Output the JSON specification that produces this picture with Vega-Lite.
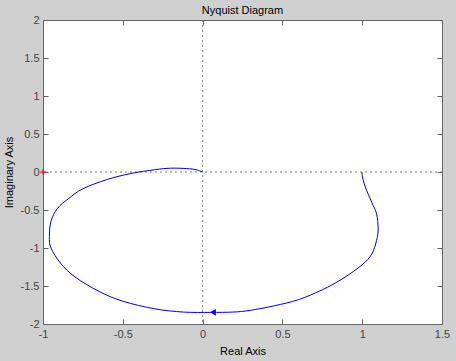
{
  "$schema": "https://vega.github.io/schema/vega-lite/v6.json",
  "width": 399,
  "height": 304,
  "autosize": "none",
  "padding": {"left": 43, "top": 20, "right": 14, "bottom": 37},
  "background": "#d0d0d0",
  "title": {"text": "Nyquist Diagram", "fontSize": 11, "fontWeight": "normal", "font": "Liberation Sans", "color": "#000000", "offset": 5, "dy": 7},
  "config": {
    "view": {"fill": "white", "stroke": "#666666", "strokeWidth": 1},
    "axis": {
      "grid": false,
      "domain": false,
      "labelFont": "Liberation Sans",
      "titleFont": "Liberation Sans",
      "labelFontSize": 11,
      "titleFontSize": 11,
      "titleFontWeight": "normal",
      "labelColor": "#444444",
      "titleColor": "#000000",
      "tickColor": "#666666",
      "tickSize": -5,
      "labelFlush": false
    }
  },
  "datasets": {
    "curve": [
      {"i": 1, "re": 1.0, "im": 0.0},
      {"i": 2, "re": 1.0, "im": -0.05},
      {"i": 3, "re": 1.02, "im": -0.2},
      {"i": 4, "re": 1.06, "im": -0.4},
      {"i": 5, "re": 1.09, "im": -0.55},
      {"i": 6, "re": 1.1, "im": -0.75},
      {"i": 7, "re": 1.09, "im": -0.9},
      {"i": 8, "re": 1.06, "im": -1.08},
      {"i": 9, "re": 1.0, "im": -1.22},
      {"i": 10, "re": 0.88, "im": -1.4},
      {"i": 11, "re": 0.75, "im": -1.55},
      {"i": 12, "re": 0.6, "im": -1.68},
      {"i": 13, "re": 0.45, "im": -1.76},
      {"i": 14, "re": 0.3, "im": -1.82},
      {"i": 15, "re": 0.19, "im": -1.843},
      {"i": 16, "re": 0.05, "im": -1.847},
      {"i": 17, "re": -0.12, "im": -1.843},
      {"i": 18, "re": -0.3, "im": -1.8},
      {"i": 19, "re": -0.5, "im": -1.7},
      {"i": 20, "re": -0.65, "im": -1.57},
      {"i": 21, "re": -0.8, "im": -1.38},
      {"i": 22, "re": -0.89, "im": -1.2},
      {"i": 23, "re": -0.95, "im": -1.0},
      {"i": 24, "re": -0.96, "im": -0.85},
      {"i": 25, "re": -0.95, "im": -0.65},
      {"i": 26, "re": -0.91, "im": -0.48},
      {"i": 27, "re": -0.84, "im": -0.35},
      {"i": 28, "re": -0.75, "im": -0.22},
      {"i": 29, "re": -0.6, "im": -0.1},
      {"i": 30, "re": -0.45, "im": -0.02},
      {"i": 31, "re": -0.3, "im": 0.03},
      {"i": 32, "re": -0.2, "im": 0.05},
      {"i": 33, "re": -0.1, "im": 0.045},
      {"i": 34, "re": -0.04, "im": 0.03},
      {"i": 35, "re": 0.0, "im": 0.0}
    ],
    "arrow": [{"re": 0.065, "im": -1.847}],
    "crit": [{"re": -1, "im": 0}],
    "zero": [{"v": 0}]
  },
  "layer": [
    {
      "data": {"name": "zero"},
      "mark": {"type": "rule", "color": "#808080", "strokeDash": [2, 3], "strokeWidth": 1},
      "encoding": {
        "x": {"field": "v", "type": "quantitative", "scale": {"domain": [-1, 1.5], "nice": false, "zero": false},
              "axis": {"orient": "bottom", "values": [-1, -0.5, 0, 0.5, 1, 1.5], "labelExpr": "toString(datum.value)", "title": "Real Axis", "labelPadding": 9, "titlePadding": 6}}
      }
    },
    {
      "data": {"name": "zero"},
      "mark": {"type": "rule", "color": "#808080", "strokeDash": [2, 3], "strokeWidth": 1},
      "encoding": {
        "y": {"field": "v", "type": "quantitative", "scale": {"domain": [-2, 2], "nice": false, "zero": false},
              "axis": {"orient": "left", "values": [-2, -1.5, -1, -0.5, 0, 0.5, 1, 1.5, 2], "labelExpr": "toString(datum.value)", "title": "Imaginary Axis", "labelPadding": 9, "titlePadding": 6}}
      }
    },
    {
      "data": {"name": "curve"},
      "mark": {"type": "line", "color": "#0000e0", "strokeWidth": 1, "interpolate": "cardinal"},
      "encoding": {
        "x": {"field": "re", "type": "quantitative", "axis": null},
        "y": {"field": "im", "type": "quantitative", "axis": null},
        "order": {"field": "i", "type": "quantitative"}
      }
    },
    {
      "data": {"name": "arrow"},
      "mark": {"type": "point", "shape": "triangle-left", "filled": true, "color": "#0000e0", "size": 45, "opacity": 1},
      "encoding": {
        "x": {"field": "re", "type": "quantitative", "axis": {"orient": "top", "values": [-1, -0.5, 0, 0.5, 1, 1.5], "labels": false, "title": null}},
        "y": {"field": "im", "type": "quantitative", "axis": {"orient": "right", "values": [-2, -1.5, -1, -0.5, 0, 0.5, 1, 1.5, 2], "labels": false, "title": null}}
      }
    },
    {
      "data": {"name": "crit"},
      "mark": {"type": "point", "shape": "M-1,0H1M0,-1V1", "filled": false, "color": "#ff0000", "size": 36, "strokeWidth": 1, "opacity": 1},
      "encoding": {
        "x": {"field": "re", "type": "quantitative", "axis": null},
        "y": {"field": "im", "type": "quantitative", "axis": null}
      }
    }
  ],
  "resolve": {"axis": {"x": "independent", "y": "independent"}}
}
